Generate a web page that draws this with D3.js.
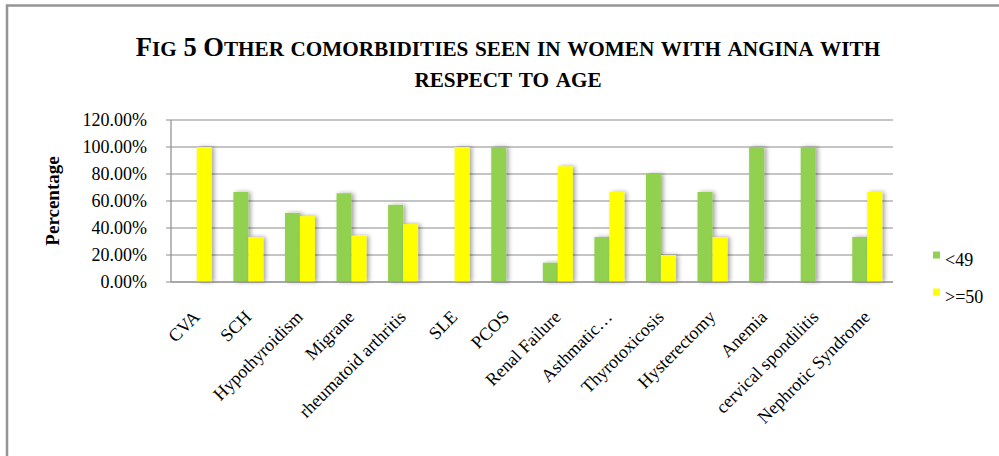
<!DOCTYPE html>
<html>
<head>
<meta charset="utf-8">
<script src="https://cdn.jsdelivr.net/npm/d3@7/dist/d3.min.js"></script>
<style>
  html, body { margin: 0; padding: 0; background: #fff; }
  svg { display: block; }
  svg text { font-family: "Liberation Serif", "Times New Roman", serif; fill: #000; }
</style>
</head>
<body>
<svg id="chart" width="999" height="456"></svg>
<script>
// Comorbidities by age group (share of cases, %)
const categories = ["CVA", "SCH", "Hypothyroidism", "Migrane", "rheumatoid arthritis", "SLE", "PCOS",
  "Renal Failure", "Asthmatic\u2026", "Thyrotoxicosis", "Hysterectomy", "Anemia", "cervical spondilitis", "Nephrotic Syndrome"];
const under49 = [0, 66.67, 51.2, 65.71, 57.14, 0, 100, 14.29, 33.33, 80, 66.67, 100, 100, 33.33];
const over50  = [100, 33.33, 48.8, 34.29, 42.86, 100, 0, 85.71, 66.67, 20, 33.33, 0, 0, 66.67];
const seriesNames = ["<49", ">=50"];
const seriesColors = ["#92D050", "#FFFF00"];
const yTicks = [0, 20, 40, 60, 80, 100, 120];
const titleLines = ["Fig 5 Other comorbidities seen in women with angina with", "respect to age"];

const svg = d3.select("#chart");

// outer chart frame
svg.append("rect")
  .attr("x", 7).attr("y", 5.5).attr("width", 1200).attr("height", 1000)
  .attr("fill", "none").attr("stroke", "#959595").attr("stroke-width", 2.5);

// soft shadow for bars
const defs = svg.append("defs");
const f = defs.append("filter").attr("id", "shadow")
  .attr("x", "-60%").attr("y", "-10%").attr("width", "220%").attr("height", "120%");
f.append("feDropShadow").attr("dx", 2.5).attr("dy", 0).attr("stdDeviation", 2.2)
  .attr("flood-color", "#000").attr("flood-opacity", 0.35);

const plot = { left: 171, right: 893, top: 120, bottom: 282 };

const x = d3.scaleBand().domain(categories).range([plot.left, plot.right]).padding(0);
const y = d3.scaleLinear().domain([0, 120]).range([plot.bottom, plot.top]);
const barW = x.bandwidth() * 0.29;

// title in small caps: capitals and digits full size, lower case as reduced capitals
function smallCaps(sel, str, size) {
  const runs = [];
  for (const ch of str) {
    const big = !(ch >= "a" && ch <= "z");
    if (runs.length && runs[runs.length - 1].big === big) runs[runs.length - 1].s += ch;
    else runs.push({ big, s: ch });
  }
  runs.forEach(r => sel.append("tspan")
    .attr("font-size", r.big ? size : size * 0.8)
    .text(r.s.toUpperCase()));
}
const titleSize = 26.5;
const titleG = svg.append("g");
const titleY = [56, 87];
titleLines.forEach((t, i) => {
  const el = titleG.append("text").attr("x", 508).attr("y", titleY[i])
    .attr("text-anchor", "middle").attr("font-weight", "bold")
    .style("white-space", "pre");
  smallCaps(el, t, titleSize);
});

// gridlines
svg.append("g").selectAll("line").data(yTicks).join("line")
  .attr("x1", plot.left - 5).attr("x2", plot.right)
  .attr("y1", d => y(d)).attr("y2", d => y(d))
  .attr("stroke", "#8c8c8c").attr("stroke-width", 1.2);

// y axis labels
const yAxis = d3.axisLeft(y).tickValues(yTicks).tickSize(0).tickPadding(0)
  .tickFormat(d => d.toFixed(2) + "%");
const yg = svg.append("g").attr("transform", `translate(${plot.left},0)`).call(yAxis);
yg.select(".domain").remove();
yg.attr("font-family", null).attr("font-size", null);
yg.selectAll("text").attr("x", -24).attr("font-size", 18).attr("dy", "0.33em");

svg.append("line")
  .attr("x1", plot.left).attr("x2", plot.left)
  .attr("y1", plot.top).attr("y2", plot.bottom)
  .attr("stroke", "#8c8c8c").attr("stroke-width", 1.2);

// y title
svg.append("text")
  .attr("transform", `translate(59,${(plot.top + plot.bottom) / 2}) rotate(-90)`)
  .attr("text-anchor", "middle").attr("font-weight", "bold").attr("font-size", 19)
  .text("Percentage");

// bars
[under49, over50].forEach((vals, si) => {
  svg.append("g").attr("filter", "url(#shadow)")
    .selectAll("rect").data(vals.map((v, i) => ({ c: categories[i], v })).filter(d => d.v > 0))
    .join("rect")
    .attr("x", d => x(d.c) + x.bandwidth() / 2 - barW + si * barW)
    .attr("width", barW)
    .attr("y", d => y(d.v))
    .attr("height", d => y(0) - y(d.v))
    .attr("fill", seriesColors[si]);
});

// baseline
svg.append("line")
  .attr("x1", plot.left).attr("x2", plot.right)
  .attr("y1", y(0)).attr("y2", y(0))
  .attr("stroke", "#8c8c8c").attr("stroke-width", 1.2);

// category labels
svg.append("g").selectAll("text").data(categories).join("text")
  .attr("transform", d => `translate(${x(d) + x.bandwidth() / 2 + 4},${y(0) + 36}) rotate(-45)`)
  .attr("text-anchor", "end").attr("font-size", 18)
  .text(d => d);

// legend
const lg = svg.append("g");
seriesNames.forEach((n, i) => {
  const ly = 255 + i * 37;
  lg.append("rect").attr("x", 933).attr("y", ly - 3.5).attr("width", 7).attr("height", 7)
    .attr("fill", seriesColors[i]);
  lg.append("text").attr("x", 945).attr("y", ly + 11).attr("font-size", 18).text(n);
});
</script>
</body>
</html>
